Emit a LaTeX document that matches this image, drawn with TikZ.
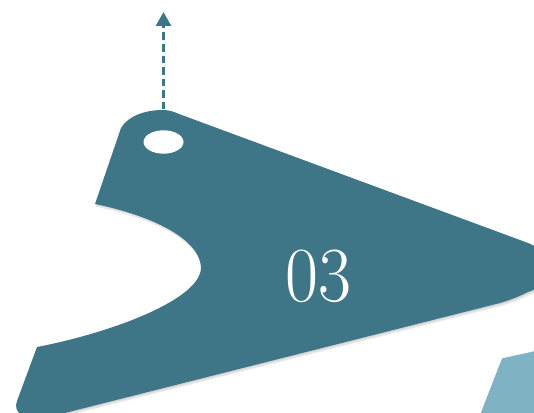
\documentclass[tikz,border=0pt]{standalone}
\usepackage{fontspec}
\usetikzlibrary{arrows.meta,shadows.blur}
\definecolor{teal1}{HTML}{3F7687}
\definecolor{teal2}{HTML}{7FB2C2}
\tikzset{
  mainshape/.style={fill=teal1, blur shadow={shadow xshift=1.5pt, shadow yshift=-2pt, shadow opacity=18, shadow blur steps=6}},
  lightshape/.style={fill=teal2},
  upline/.style={draw=teal1, line width=2.6pt, dash pattern=on 7.5pt off 4pt, -{Triangle[width=15pt,length=14pt]}},
  numtext/.style={text=white, font=\fontsize{78}{78}\selectfont, inner sep=0pt}
}
\begin{document}
\begin{tikzpicture}[x=1pt,y=-1pt]
\useasboundingbox (0,0) rectangle (534,412);
\clip (0,0) rectangle (534,412);
% light shape bottom right
\path[lightshape] (480,415) -- (501,361) .. controls (502,358) .. (506,357.5) -- (540,350) -- (540,415) -- cycle;
% main shape
\path[mainshape] (95,204) -- (121,128) .. controls (128,116) and (145,110) .. (163,110)
  .. controls (170,110) and (174,112) .. (179,114) -- (528,243)
  .. controls (558,255) and (558,282) .. (528,292)
  .. controls (518,297) and (510,300) .. (500,303) -- (45,418)
  .. controls (22,420) and (13,412) .. (17,401) -- (37,347)
  .. controls (110,333) and (200,300) .. (201,268)
  .. controls (200,235) and (140,213) .. (95,204) -- cycle;
% hole
\fill[white] (163.5,142) ellipse [x radius=20, y radius=11.7];
% dashed arrow
\coordinate (start) at (163.5,109);
\coordinate (tip) at (163.5,12);
\draw[upline] (start) -- (tip);
% number
\node[numtext, xscale=0.92] (num) at (318.5,276.5) {03};
\end{tikzpicture}
\end{document}
